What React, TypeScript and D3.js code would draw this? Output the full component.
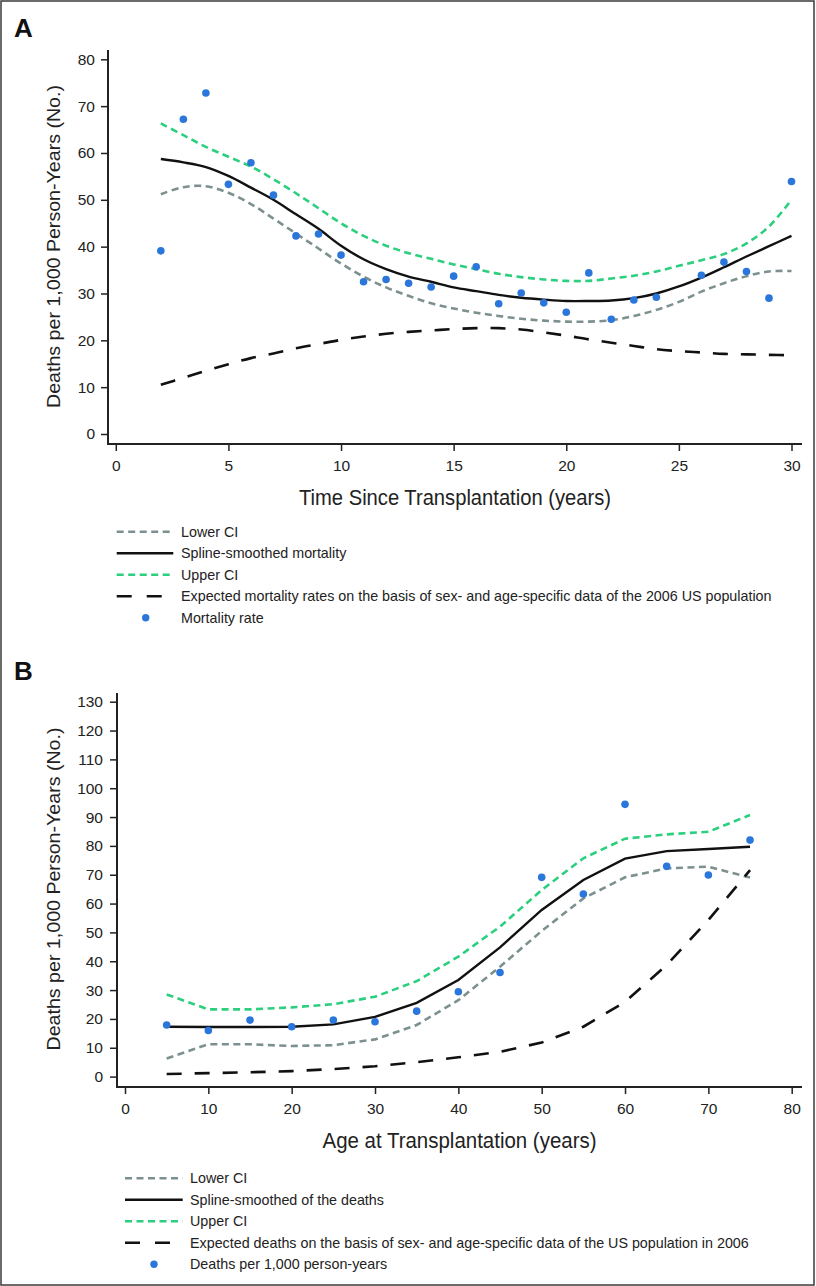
import React, { useEffect, useRef } from 'react'
import * as d3 from 'd3'

// Panel A: time since transplantation (years)
const yearsA = [2, 3, 4, 5, 6, 7, 8, 9, 10, 11, 12, 13, 14, 15, 16, 17, 18, 19, 20, 21, 22, 23, 24, 25, 26, 27, 28, 29, 30]
const splineA = [58.7, 58.0, 57.0, 55.1, 52.6, 50.0, 46.9, 43.8, 40.2, 37.3, 35.2, 33.6, 32.5, 31.3, 30.5, 29.7, 29.1, 28.7, 28.4, 28.4, 28.5, 29.0, 30.0, 31.5, 33.4, 35.6, 37.9, 40.1, 42.3]
const upperA = [66.3, 63.8, 61.3, 59.2, 57.1, 54.4, 51.4, 48.2, 45.0, 42.3, 40.2, 38.6, 37.4, 36.2, 35.2, 34.2, 33.5, 33.0, 32.7, 32.7, 33.2, 33.8, 34.7, 35.9, 37.1, 38.4, 40.7, 44.3, 50.0]
const lowerA = [51.2, 52.7, 52.9, 51.5, 49.1, 46.0, 42.8, 39.6, 36.4, 33.6, 31.3, 29.5, 27.9, 26.8, 25.9, 25.2, 24.6, 24.2, 24.0, 24.0, 24.3, 25.2, 26.5, 28.2, 30.4, 32.2, 33.7, 34.7, 34.8]
const expectedA = [10.5, 12.0, 13.5, 14.9, 16.2, 17.2, 18.3, 19.2, 20.1, 20.8, 21.4, 21.8, 22.1, 22.4, 22.6, 22.6, 22.3, 21.7, 21.0, 20.2, 19.5, 18.8, 18.1, 17.7, 17.4, 17.1, 17.0, 16.9, 16.8]
const rateYearsA = [2, 3, 4, 5, 6, 7, 8, 9, 10, 11, 12, 13, 14, 15, 16, 17, 18, 19, 20, 21, 22, 23, 24, 26, 27, 28, 29, 30]
const ratesA = [39.1, 67.2, 72.8, 53.3, 57.9, 51.0, 42.3, 42.7, 38.2, 32.5, 33.0, 32.2, 31.4, 33.7, 35.7, 27.8, 30.1, 28.0, 26.0, 34.4, 24.5, 28.6, 29.2, 33.9, 36.7, 34.7, 29.0, 53.9]
const xTicksA = [0, 5, 10, 15, 20, 25, 30]
const yTicksA = [0, 10, 20, 30, 40, 50, 60, 70, 80]
const legendA = [
  'Lower CI',
  'Spline-smoothed mortality',
  'Upper CI',
  'Expected mortality rates on the basis of sex- and age-specific data of the 2006 US population',
  'Mortality rate',
]

// Panel B: age at transplantation (years)
const agesB = [5, 10, 15, 20, 25, 30, 35, 40, 45, 50, 55, 60, 65, 70, 75]
const ratesB = [17.9, 16.0, 19.6, 17.3, 19.6, 19.0, 22.7, 29.4, 36.1, 69.1, 63.3, 94.4, 72.9, 69.9, 82.0]
const splineB = [17.3, 17.2, 17.2, 17.3, 18.1, 20.7, 25.6, 33.5, 44.8, 57.8, 68.2, 75.6, 78.2, 78.9, 79.7]
const upperB = [28.5, 23.3, 23.3, 24.0, 25.1, 27.7, 33.1, 41.6, 52.0, 64.7, 75.7, 82.5, 84.0, 84.9, 90.7]
const lowerB = [6.3, 11.2, 11.2, 10.6, 10.9, 12.9, 17.9, 26.5, 38.1, 50.5, 61.8, 69.1, 72.2, 72.8, 69.0]
const expectedB = [0.9, 1.2, 1.5, 1.9, 2.6, 3.6, 5.0, 6.7, 8.6, 11.8, 17.3, 25.9, 38.7, 54.3, 71.6]
const xTicksB = [0, 10, 20, 30, 40, 50, 60, 70, 80]
const yTicksB = [0, 10, 20, 30, 40, 50, 60, 70, 80, 90, 100, 110, 120, 130]
const legendB = [
  'Lower CI',
  'Spline-smoothed of the deaths',
  'Upper CI',
  'Expected deaths on the basis of sex- and age-specific data of the US population in 2006',
  'Deaths per 1,000 person-years',
]

const SANS = '"Liberation Sans", Arial, Helvetica, sans-serif'
const NARROW = '"Liberation Sans Narrow", "Liberation Sans", Arial, sans-serif'
const C = { lower: '#7d9090', spline: '#111', upper: '#2bcf7d', expected: '#111', dot: '#2b76db', axis: '#222' }

export default function App(){
  const svgRef = useRef(null)

  useEffect(()=>{
    const W = 816, H = 1286
    const svg = d3.select(svgRef.current).attr('width', W).attr('height', H).attr('viewBox', `0 0 ${W} ${H}`)
    svg.selectAll('*').remove()
    svg.append('rect').attr('x', 0).attr('y', 0).attr('width', W).attr('height', H).attr('fill', '#fff')
    svg.append('rect').attr('x', 1).attr('y', 1).attr('width', 813).attr('height', 1284)
      .attr('fill', 'none').attr('stroke', '#3a3a3a').attr('stroke-width', 1.5)

    const panel = (p) => {
      const g = svg.append('g')
      const x = d3.scaleLinear().domain(p.xDomain).range(p.xRange)
      const y = d3.scaleLinear().domain(p.yDomain).range(p.yRange)

      // letter
      g.append('text').attr('x', 14).attr('y', p.letterY).attr('font-family', SANS).attr('font-weight', 'bold')
        .attr('font-size', 26).attr('fill', '#111').text(p.letter)

      // axes
      const xa = g.append('g').attr('transform', `translate(0,${p.axisY})`)
        .call(d3.axisBottom(x).tickValues(p.xTicks).tickSize(7).tickPadding(9).tickFormat(d3.format('d')))
      xa.select('.domain').remove()
      xa.selectAll('line').attr('stroke', C.axis).attr('stroke-width', 1.5)
      xa.selectAll('text').attr('font-family', SANS).attr('font-size', 15.5).attr('fill', '#222')
      const ya = g.append('g').attr('transform', `translate(${p.axisX},0)`)
        .call(d3.axisLeft(y).tickValues(p.yTicks).tickSize(7).tickPadding(p.yPad).tickFormat(d3.format('d')))
      ya.select('.domain').remove()
      ya.selectAll('line').attr('stroke', C.axis).attr('stroke-width', 1.5)
      ya.selectAll('text').attr('font-family', SANS).attr('font-size', 15.5).attr('fill', '#222')
      g.append('path').attr('d', `M${p.axisX},${p.axisTop}V${p.axisY}H${p.axisRight}`)
        .attr('fill', 'none').attr('stroke', C.axis).attr('stroke-width', 2)

      // axis titles
      g.append('text').attr('x', (p.axisX + p.axisRight) / 2).attr('y', p.axisY + 61)
        .attr('text-anchor', 'middle').attr('font-family', NARROW).attr('font-size', 22).attr('fill', '#222')
        .attr('textLength', p.xTitleLen).attr('lengthAdjust', 'spacingAndGlyphs').text(p.xTitle)
      const cy = p.yTitleCy
      g.append('text').attr('transform', `translate(60,${cy}) rotate(-90)`)
        .attr('text-anchor', 'middle').attr('font-family', SANS).attr('font-size', 18.5).attr('fill', '#222')
        .attr('textLength', 323).attr('lengthAdjust', 'spacingAndGlyphs')
        .text('Deaths per 1,000 Person-Years (No.)')

      // series
      const line = d3.line().x(d=>x(d[0])).y(d=>y(d[1])).curve(p.curve)
      const zip = (xs, ys) => xs.map((v, i) => [v, ys[i]])
      const series = [
        { vals: p.lower, color: C.lower, dash: '7,4.5', w: 2.6 },
        { vals: p.upper, color: C.upper, dash: '7,4.5', w: 2.6 },
        { vals: p.expected, color: C.expected, dash: '15,13', w: 2.6 },
        { vals: p.spline, color: C.spline, dash: null, w: 2.4 },
      ]
      series.forEach(s => {
        g.append('path').datum(zip(p.xs, s.vals)).attr('d', line).attr('fill', 'none')
          .attr('stroke', s.color).attr('stroke-width', s.w).attr('stroke-dasharray', s.dash)
      })
      g.append('g').selectAll('circle').data(zip(p.rateXs, p.rates)).join('circle')
        .attr('cx', d=>x(d[0])).attr('cy', d=>y(d[1])).attr('r', 3.8).attr('fill', C.dot)

      // legend
      const lg = g.append('g')
      const styles = [
        { color: C.lower, dash: '7,4.5', len: p.legLen },
        { color: C.spline, dash: null, len: p.legLen },
        { color: C.upper, dash: '7,4.5', len: p.legLen },
        { color: C.expected, dash: '15,15', len: 45 },
      ]
      p.legend.forEach((label, i) => {
        const ly = p.legTop + i * p.legStep
        if (i < 4) {
          const s = styles[i]
          lg.append('line').attr('x1', p.legX).attr('x2', p.legX + s.len).attr('y1', ly).attr('y2', ly)
            .attr('stroke', s.color).attr('stroke-width', 2.6).attr('stroke-dasharray', s.dash)
        } else {
          lg.append('circle').attr('cx', p.legDotX).attr('cy', ly).attr('r', 3.7).attr('fill', C.dot)
        }
        lg.append('text').attr('x', p.legTextX).attr('y', ly + 5).attr('font-family', SANS)
          .attr('font-size', 14.3).attr('fill', '#222').text(label)
      })
    }

    panel({
      letter: 'A', letterY: 37,
      xDomain: [0, 30], xRange: [115.8, 791.5], yDomain: [0, 80], yRange: [434, 59.3],
      axisX: 108, axisY: 444, axisTop: 50, axisRight: 802, yPad: 6,
      xTicks: xTicksA, yTicks: yTicksA,
      xTitle: 'Time Since Transplantation (years)', xTitleLen: 312, yTitleCy: 246.5,
      curve: d3.curveCatmullRom.alpha(0.5),
      xs: yearsA, lower: lowerA, upper: upperA, expected: expectedA, spline: splineA,
      rateXs: rateYearsA, rates: ratesA,
      legend: legendA, legX: 116.7, legLen: 56.6, legTextX: 181, legDotX: 145.7, legTop: 531.7, legStep: 21.5,
    })

    panel({
      letter: 'B', letterY: 680,
      xDomain: [0, 80], xRange: [125, 791.7], yDomain: [0, 130], yRange: [1076.6, 701.7],
      axisX: 117, axisY: 1087, axisTop: 693, axisRight: 802, yPad: 7,
      xTicks: xTicksB, yTicks: yTicksB,
      xTitle: 'Age at Transplantation (years)', xTitleLen: 274, yTitleCy: 889,
      curve: d3.curveLinear,
      xs: agesB, lower: lowerB, upper: upperB, expected: expectedB, spline: splineB,
      rateXs: agesB, rates: ratesB,
      legend: legendB, legX: 125, legLen: 57.7, legTextX: 190, legDotX: 154, legTop: 1178.3, legStep: 21.5,
    })
  }, [])

  return (<svg ref={svgRef} style={{position: 'absolute', left: 0, top: 0, display: 'block'}}></svg>)
}
